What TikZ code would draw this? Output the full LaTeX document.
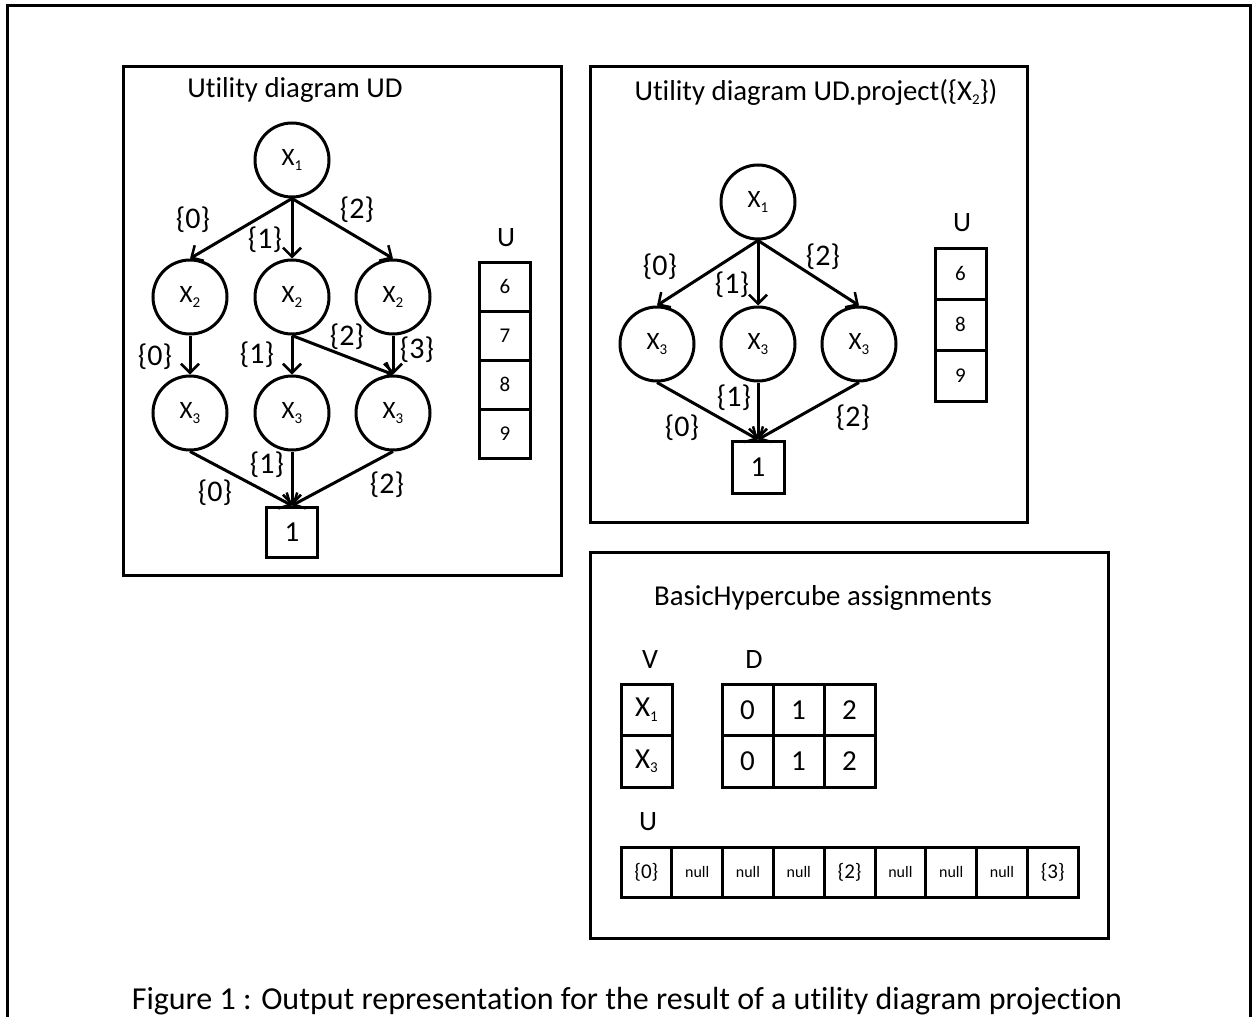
\documentclass[tikz,border=0pt]{standalone}
\usepackage{fontspec}
\setmainfont[Ligatures=NoCommon]{Carlito}
\usetikzlibrary{arrows.meta}
\newcommand{\lowidx}[1]{\raisebox{-0.35ex}{\fontsize{15}{17}\selectfont #1}}
\newcommand{\fs}[1]{\fontsize{#1}{#1}\selectfont}
\begin{document}
\begin{tikzpicture}[x=1pt,y=-1pt,
  frame/.style={line width=3pt},
  var/.style={draw,circle,line width=3pt,minimum size=74pt,inner sep=0pt,font=\fs{25}},
  leaf/.style={draw,line width=3pt,minimum width=51pt,minimum height=50pt,inner sep=0pt,font=\fs{29}},
  cell/.style={draw,line width=3pt,minimum width=51pt,minimum height=49pt,inner sep=0pt,font=\fs{21}},
  bigcell/.style={draw,line width=3pt,minimum width=51pt,minimum height=51.5pt,inner sep=0pt,font=\fs{29}},
  ucell/.style={draw,line width=3pt,minimum width=50.8pt,minimum height=50pt,inner sep=0pt,font=\fs{21}},
  nullcell/.style={ucell,font=\fs{16}},
  title/.style={font=\fs{28.8}},
  lbl/.style={font=\fs{28}},
  edge/.style={line width=3pt,-{Straight Barb[length=9pt,width=18pt,line width=2.5pt]}},
  edgelbl/.style={font=\fs{30},inner sep=0pt}]
\useasboundingbox (0,0) rectangle (1254,1017);

% outer figure frame, open at the bottom
\draw[frame] (7,1017) -- (7,5) -- (1250,5) -- (1250,1017);

% ---------- Utility diagram UD ----------
\draw[frame] (123,66) rectangle (561,575);
\node[title] (t1) at (295,90) {Utility diagram UD};

\node[var] (a1) at (292,160) {X\lowidx{1}};
\node[var] (b1) at (190,297) {X\lowidx{2}};
\node[var] (b2) at (292,297) {X\lowidx{2}};
\node[var] (b3) at (393,297) {X\lowidx{2}};
\node[var] (c1) at (190,413) {X\lowidx{3}};
\node[var] (c2) at (292,413) {X\lowidx{3}};
\node[var] (c3) at (393,413) {X\lowidx{3}};
\node[leaf] (one1) at (292,532) {1};

\draw[edge] (a1.south) -- (b1.north);
\draw[edge] (a1.south) -- (b2.north);
\draw[edge] (a1.south) -- (b3.north);
\draw[edge] (b1.south) -- (c1.north);
\draw[edge] (b2.south) -- (c2.north);
\draw[edge] (b2.south) -- (c3.north);
\draw[edge] (b3.south) -- (c3.north);
\draw[edge] (c1.south) -- (one1.north);
\draw[edge] (c2.south) -- (one1.north);
\draw[edge] (c3.south) -- (one1.north);

\node[edgelbl] (e1) at (193,220) {\{0\}};
\node[edgelbl] (e2) at (265,240) {\{1\}};
\node[edgelbl] (e3) at (357,210) {\{2\}};
\node[edgelbl] (e4) at (155,357) {\{0\}};
\node[edgelbl] (e5) at (257,355) {\{1\}};
\node[edgelbl] (e6) at (347,337) {\{2\}};
\node[edgelbl] (e7) at (417,350) {\{3\}};
\node[edgelbl] (e8) at (267,465) {\{1\}};
\node[edgelbl] (e9) at (215,493) {\{0\}};
\node[edgelbl] (e10) at (387,485) {\{2\}};

\node[lbl] (u1) at (506,238) {U};
\node[cell] (u1a) at (505,286.5) {6};
\node[cell] (u1b) at (505,335.5) {7};
\node[cell] (u1c) at (505,384.5) {8};
\node[cell] (u1d) at (505,433.5) {9};

% ---------- Utility diagram UD.project({X2}) ----------
\draw[frame] (590,66) rectangle (1027,522);
\node[title] (t2) at (816,92) {Utility diagram UD.project(\{X\lowidx{2}\})};

\node[var] (p1) at (758,202) {X\lowidx{1}};
\node[var] (q1) at (657,344) {X\lowidx{3}};
\node[var] (q2) at (758,344) {X\lowidx{3}};
\node[var] (q3) at (859,344) {X\lowidx{3}};
\node[leaf,minimum height=52pt,minimum width=52pt] (one2) at (758,467) {1};

\draw[edge] (p1.south) -- (q1.north);
\draw[edge] (p1.south) -- (q2.north);
\draw[edge] (p1.south) -- (q3.north);
\draw[edge] (q1.south) -- (one2.north);
\draw[edge] (q2.south) -- (one2.north);
\draw[edge] (q3.south) -- (one2.north);

\node[edgelbl] (f1) at (660,267) {\{0\}};
\node[edgelbl] (f2) at (732,285) {\{1\}};
\node[edgelbl] (f3) at (823,257) {\{2\}};
\node[edgelbl] (f4) at (734,398) {\{1\}};
\node[edgelbl] (f5) at (682,428) {\{0\}};
\node[edgelbl] (f6) at (853,418) {\{2\}};

\node[lbl] (u2) at (962,223) {U};
\node[cell,minimum height=51pt] (u2a) at (960.5,273.5) {6};
\node[cell,minimum height=51pt] (u2b) at (960.5,324.5) {8};
\node[cell,minimum height=51pt] (u2c) at (960.5,375.5) {9};

% ---------- BasicHypercube assignments ----------
\draw[frame] (590,552) rectangle (1108,938);
\node[title] (t3) at (823,598) {BasicHypercube assignments};

\node[lbl] (vl) at (650,660) {V};
\node[lbl] (dl) at (754,660) {D};
\node[bigcell] (v1) at (646.5,709.75) {X\lowidx{1}};
\node[bigcell] (v2) at (646.5,761.25) {X\lowidx{3}};
\foreach \c [count=\i from 0] in {0,1,2} {
  \node[bigcell] (d1\i) at (747.5+51*\i,709.75) {\c};
  \node[bigcell] (d2\i) at (747.5+51*\i,761.25) {\c};
}

\node[lbl] (ul) at (648,822) {U};
\foreach \t/\s [count=\i from 0] in {\{0\}/ucell,null/nullcell,null/nullcell,null/nullcell,\{2\}/ucell,null/nullcell,null/nullcell,null/nullcell,\{3\}/ucell} {
  \node[\s] (h\i) at (646.4+50.8*\i,872) {\t};
}

% caption
\node[anchor=base,font=\fs{32}] (cap) at (627,1009) {Figure 1 : Output representation for the result of a utility diagram projection};
\end{tikzpicture}
\end{document}
